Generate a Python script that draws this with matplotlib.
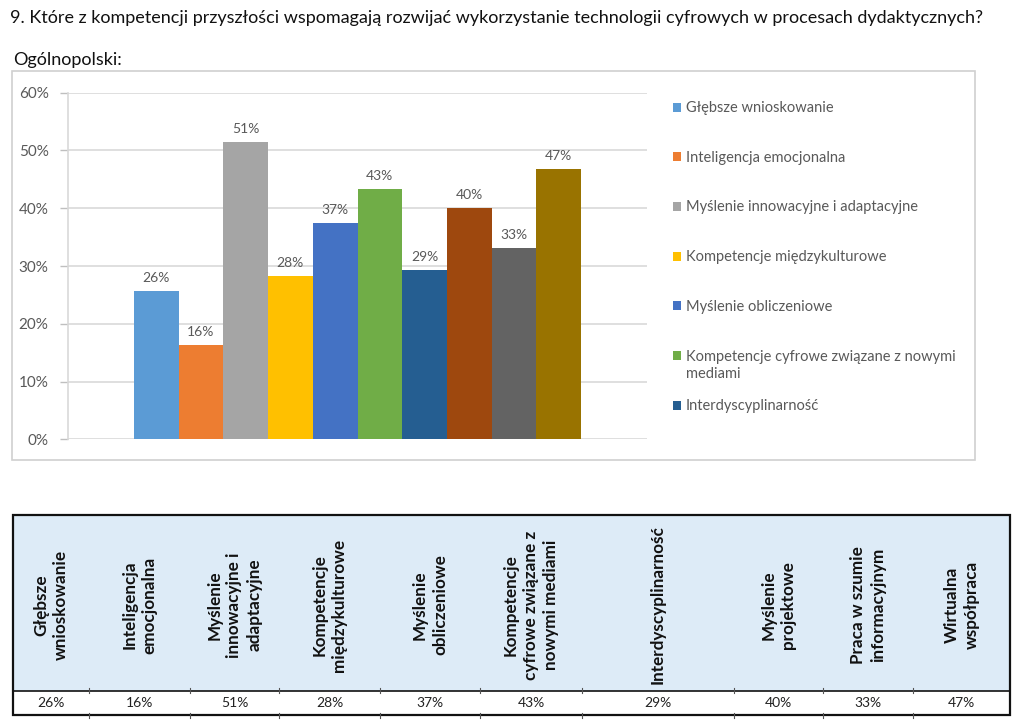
import matplotlib
matplotlib.use("Agg")
import matplotlib.pyplot as plt
from matplotlib.patches import Rectangle

plt.rcParams["font.family"] = ["Lato", "DejaVu Sans"]

# --- data -----------------------------------------------------------------
categories = [
    "Głębsze wnioskowanie",
    "Inteligencja emocjonalna",
    "Myślenie innowacyjne i adaptacyjne",
    "Kompetencje międzykulturowe",
    "Myślenie obliczeniowe",
    "Kompetencje cyfrowe związane z nowymi mediami",
    "Interdyscyplinarność",
    "Myślenie projektowe",
    "Praca w szumie informacyjnym",
    "Wirtualna współpraca",
]
values = [25.6, 16.4, 51.4, 28.3, 37.4, 43.4, 29.3, 40.1, 33.2, 46.8]
value_labels = ["26%", "16%", "51%", "28%", "37%", "43%", "29%", "40%", "33%", "47%"]
legend_labels = [
    "Głębsze wnioskowanie",
    "Inteligencja emocjonalna",
    "Myślenie innowacyjne i adaptacyjne",
    "Kompetencje międzykulturowe",
    "Myślenie obliczeniowe",
    "Kompetencje cyfrowe związane z nowymi\nmediami",
    "Interdyscyplinarność",
]
table_headers = [
    "Głębsze\nwnioskowanie",
    "Inteligencja\nemocjonalna",
    "Myślenie\ninnowacyjne i\nadaptacyjne",
    "Kompetencje\nmiędzykulturowe",
    "Myślenie\nobliczeniowe",
    "Kompetencje\ncyfrowe związane z\nnowymi mediami",
    "Interdyscyplinarność",
    "Myślenie\nprojektowe",
    "Praca w szumie\ninformacyjnym",
    "Wirtualna\nwspółpraca",
]
yticks = [0, 10, 20, 30, 40, 50, 60]

colors = ["#5B9BD5", "#ED7D31", "#A5A5A5", "#FFC000", "#4472C4",
          "#70AD47", "#255E91", "#9E480E", "#636363", "#997300"]

W, H = 1023, 725
GRAY = "#595959"


def frac(x0, y0, x1, y1):
    # pixel box (top-left origin) -> figure fraction rect
    return [x0 / W, 1 - y1 / H, (x1 - x0) / W, (y1 - y0) / H]


fig = plt.figure(figsize=(W / 100, H / 100), dpi=100)

# overlay in pixel coordinates for the page furniture
page = fig.add_axes([0, 0, 1, 1], zorder=0)
page.set_xlim(0, W)
page.set_ylim(H, 0)
page.axis("off")

page.text(10, 18, "9. Które z kompetencji przyszłości wspomagają rozwijać "
          "wykorzystanie technologii cyfrowych w procesach dydaktycznych?",
          fontsize=13, va="center", ha="left", color="#111111")
page.text(13, 60, "Ogólnopolski:", fontsize=13, va="center", ha="left",
          color="#111111")

# chart frame
page.add_patch(Rectangle((12, 71), 963, 389, fill=False, ec="#D0D0D0", lw=1.2))

# --- bar chart ------------------------------------------------------------
ax = fig.add_axes(frac(68, 92.7, 647, 439.3), zorder=1)
ax.patch.set_alpha(0)
x = list(range(len(values)))
bars = ax.bar(x, values, width=1.0, color=colors, zorder=2)
for b, lab in zip(bars, value_labels):
    ax.annotate(lab, (b.get_x() + b.get_width() / 2, b.get_height()),
                xytext=(0, 5), textcoords="offset points",
                ha="center", va="bottom", fontsize=10, color=GRAY)

ax.set_ylim(0, 60)
ax.set_xlim(-1.97, len(values) - 1 + 1.97)
ax.set_yticks(yticks)
ax.set_yticklabels([f"{t}%" for t in yticks])
ax.tick_params(axis="y", labelsize=11, labelcolor=GRAY, color="#BFBFBF",
               length=6, width=1, pad=8)
ax.set_xticks([])
ax.grid(axis="y", color="#D9D9D9", lw=1.2, zorder=0)
for s in ["top", "right", "bottom"]:
    ax.spines[s].set_visible(False)
ax.spines["left"].set_color("#D9D9D9")
ax.spines["left"].set_linewidth(1.2)

# legend (only the first seven entries fit, as in the source)
for i, lab in enumerate(legend_labels):
    y = 107 + i * 49.7
    page.add_patch(Rectangle((673, y - 4.5), 8, 9, color=colors[i], lw=0))
    page.text(686, y - 6, lab, fontsize=10.5, color=GRAY, va="top",
              ha="left", linespacing=1.35)

# --- table ----------------------------------------------------------------
col_edges = [13, 89, 190, 279, 380, 480, 582, 734, 823, 913, 1010]
t_top, t_mid, t_bot = 515, 691, 715

page.add_patch(Rectangle((13, t_top), 997, t_mid - t_top, color="#DDEBF7", lw=0))
page.add_patch(Rectangle((13, t_top), 997, t_bot - t_top, fill=False,
                         ec="#111111", lw=1.6))
page.plot([13, 1010], [t_mid, t_mid], color="#111111", lw=1.2)
for e in col_edges[1:-1]:
    page.plot([e, e], [t_mid - 3, t_mid + 2], color="#555555", lw=0.8)
    page.plot([e, e], [t_bot - 2, t_bot + 3], color="#555555", lw=0.8)

for i, (hdr, lab) in enumerate(zip(table_headers, value_labels)):
    cx = (col_edges[i] + col_edges[i + 1]) / 2
    page.text(cx, (t_top + t_mid) / 2 + 2, hdr, rotation=90, ha="center",
              va="center", multialignment="center", fontsize=12.3,
              fontweight="bold", color="#111111", linespacing=1.3)
    page.text(cx, (t_mid + t_bot) / 2, lab, ha="center", va="center",
              fontsize=10, color="#222222")

fig.savefig("out.png", dpi=100, facecolor="white")
